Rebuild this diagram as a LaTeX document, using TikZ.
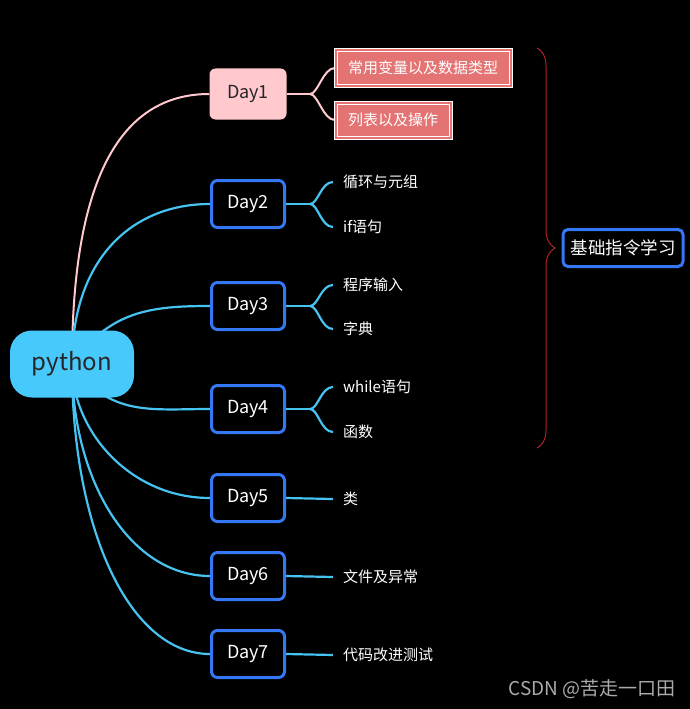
\documentclass[tikz,border=0pt]{standalone}
\usepackage{fontspec}
\setmainfont{Noto Sans CJK SC}
\usetikzlibrary{decorations.pathreplacing}
\definecolor{pycyan}{RGB}{72,201,252}
\definecolor{linecyan}{RGB}{70,195,240}
\definecolor{daypink}{RGB}{255,201,206}
\definecolor{dayblue}{RGB}{52,120,246}
\definecolor{boxred}{RGB}{228,115,115}
\definecolor{bracered}{RGB}{178,34,34}
\definecolor{markgray}{RGB}{170,170,170}
\pgfdeclarelayer{back}
\pgfsetlayers{back,main}

\begin{document}
\begin{tikzpicture}[
  x=1pt,
  y=-1pt,
  every node/.style={inner sep=0pt},
  root/.style={fill=pycyan,rounded corners=22pt,minimum width=124pt,minimum height=67pt,
    font=\fontsize{24}{28}\selectfont,text=black!85},
  day/.style={draw=dayblue,line width=3pt,fill=black,rounded corners=6pt,
    minimum width=73pt,minimum height=47pt,font=\fontsize{18}{22}\selectfont,text=white},
  dayfirst/.style={fill=daypink,rounded corners=6pt,minimum width=77pt,minimum height=51pt,
    font=\fontsize{18}{22}\selectfont,text=black!85},
  leaf/.style={anchor=west,inner xsep=10pt,font=\fontsize{15}{18}\selectfont,text=white},
  redbox/.style={anchor=west,inner xsep=12.5pt,minimum height=35pt,fill=boxred,
    draw=white,line width=1pt,double=boxred,double distance=2pt,
    font=\fontsize{15}{18}\selectfont,text=white},
  summary/.style={draw=dayblue,line width=3pt,fill=black,rounded corners=5pt,
    minimum width=120pt,minimum height=37pt,font=\fontsize{17.5}{21}\selectfont,text=white},
  link/.style={line width=2.2pt,draw=linecyan},
  pinklink/.style={line width=2pt,draw=daypink},
  bracket/.style={decorate,decoration={brace,amplitude=18pt},draw=bracered,line width=1pt}
]
\useasboundingbox (0,0) rectangle (690,709);

% Root
\node[root] (py) at (72,364) {python};

% Days
\node[dayfirst] (d1) at (248,94) {Day1};
\node[day] (d2) at (248,204) {Day2};
\node[day] (d3) at (248,306) {Day3};
\node[day] (d4) at (248,409) {Day4};
\node[day] (d5) at (248,498) {Day5};
\node[day] (d6) at (248,576) {Day6};
\node[day] (d7) at (248,654) {Day7};

% Topics
\node[redbox] (c1a) at (335,68) {常用变量以及数据类型};
\node[redbox] (c1b) at (335,120) {列表以及操作};
\node[leaf] (c2a) at (333,182) {循环与元组};
\node[leaf] (c2b) at (333,227) {if语句};
\node[leaf] (c3a) at (333,285) {程序输入};
\node[leaf] (c3b) at (333,329) {字典};
\node[leaf] (c4a) at (333,387) {while语句};
\node[leaf] (c4b) at (333,432) {函数};
\node[leaf] (c5) at (333,499) {类};
\node[leaf] (c6) at (333,577) {文件及异常};
\node[leaf] (c7) at (333,655) {代码改进测试};

% Forks
\coordinate (f1) at (310,94);
\coordinate (f2) at (310,204);
\coordinate (f3) at (310,306);
\coordinate (f4) at (310,409);

% Summary
\coordinate (btop) at (537,48);
\coordinate (bbot) at (537,448);
\draw[bracket] (btop) -- (bbot);
\node[summary] (sum) at (623,248) {基础指令学习};

\node[anchor=east,text=markgray,font=\fontsize{19}{22}\selectfont] (mark) at (676,689) {CSDN @苦走一口田};

\begin{pgfonlayer}{back}
\fill[black] (0,0) rectangle (690,709);

% Root to days
\draw[pinklink] (py.center) .. controls +(0,-183) and +(-90,0) .. (d1.west);
\draw[link] (py.center) .. controls +(0,-103) and +(-80,0) .. (d2.west);
\draw[link] (py.center) .. controls +(38,-53) and +(-60,0) .. (d3.west);
\draw[link] (py.center) .. controls +(38,53) and +(-60,0) .. (d4.west);
\draw[link] (py.center) .. controls +(0,67) and +(-80,0) .. (d5.west);
\draw[link] (py.center) .. controls +(0,117) and +(-80,0) .. (d6.west);
\draw[link] (py.center) .. controls +(0,167) and +(-80,0) .. (d7.west);

% Days to topics
\draw[pinklink] (d1.east) -- (f1);
\draw[pinklink] (f1) .. controls +(8,0) and +(-12,0) .. (c1a.west);
\draw[pinklink] (f1) .. controls +(8,0) and +(-12,0) .. (c1b.west);
\draw[link] (d2.east) -- (f2);
\draw[link] (f2) .. controls +(8,0) and +(-12,0) .. (c2a.west);
\draw[link] (f2) .. controls +(8,0) and +(-12,0) .. (c2b.west);
\draw[link] (d3.east) -- (f3);
\draw[link] (f3) .. controls +(8,0) and +(-12,0) .. (c3a.west);
\draw[link] (f3) .. controls +(8,0) and +(-12,0) .. (c3b.west);
\draw[link] (d4.east) -- (f4);
\draw[link] (f4) .. controls +(8,0) and +(-12,0) .. (c4a.west);
\draw[link] (f4) .. controls +(8,0) and +(-12,0) .. (c4b.west);
\draw[link] (d5.east) -- (c5.west);
\draw[link] (d6.east) -- (c6.west);
\draw[link] (d7.east) -- (c7.west);
\end{pgfonlayer}
\end{tikzpicture}
\end{document}
